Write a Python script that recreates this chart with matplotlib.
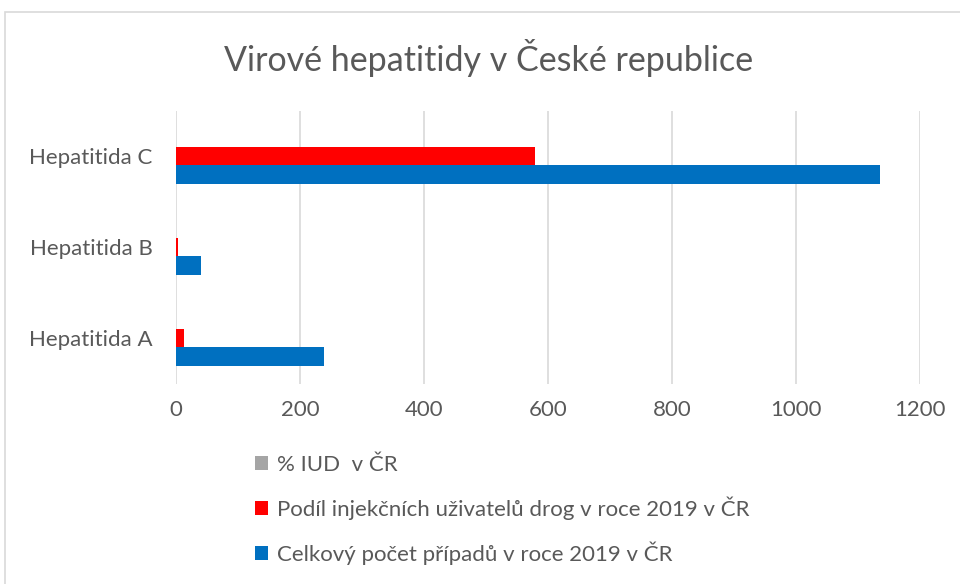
import matplotlib
matplotlib.use("Agg")
import matplotlib.pyplot as plt
from matplotlib.patches import Rectangle, Patch
import numpy as np

categories = ["Hepatitida A", "Hepatitida B", "Hepatitida C"]
celkovy = [239, 40, 1135]
podil_iud = [13, 3, 579]
pct_iud = [0.5, 0.1, 0.5]
series_labels = ["% IUD  v ČR",
                 "Podíl injekčních uživatelů drog v roce 2019 v ČR",
                 "Celkový počet případů v roce 2019 v ČR"]
xticks = [0, 200, 400, 600, 800, 1000, 1200]

plt.rcParams['font.family'] = ['Lato', 'DejaVu Sans']
W, H = 960, 584
fig = plt.figure(figsize=(W / 100, H / 100), dpi=100)

# chart border
fig.patches.append(Rectangle((5 / W, 0 - 0.01), 1.2, (H - 12) / H + 0.01,
                             transform=fig.transFigure, fill=False,
                             edgecolor="#D9D9D9", linewidth=1.2))

ax = fig.add_axes([176 / W, 1 - 383.5 / H, 744 / W, 273 / H])
y = np.arange(len(categories))
bh = 18.5 / 91
c_gray, c_red, c_blue = "#A5A5A5", "#FF0000", "#0070C0"
ax.barh(y - bh, celkovy, height=bh, color=c_blue, zorder=3)
ax.barh(y, podil_iud, height=bh, color=c_red, zorder=3)
ax.barh(y + bh, pct_iud, height=bh, color=c_gray, zorder=3)

ax.set_xlim(0, 1200)
ax.set_ylim(-0.5, 2.5)
ax.set_xticks(xticks)
ax.set_yticks(y)
ax.set_yticklabels(categories)
ax.tick_params(axis="both", length=0, labelsize=16, labelcolor="#595959")
ax.tick_params(axis="x", pad=12)
ax.tick_params(axis="y", pad=17)
ax.grid(axis="x", color="#D9D9D9", linewidth=1.2, zorder=0)
for s in ax.spines.values():
    s.set_visible(False)

fig.text(489 / W, 1 - 58 / H, "Virové hepatitidy v České republice",
         ha="center", va="center", fontsize=24.5, color="#595959")

handles = [Patch(facecolor=c, edgecolor="none") for c in (c_gray, c_red, c_blue)]
fig.legend(handles, series_labels, loc="upper left",
           bbox_to_anchor=(255 / W, 1 - 455 / H), frameon=False,
           fontsize=16, labelcolor="#595959", handlelength=0.6,
           handleheight=0.6, handletextpad=0.4, labelspacing=0.96,
           borderaxespad=0, borderpad=0)

fig.savefig("out.png", dpi=100)
